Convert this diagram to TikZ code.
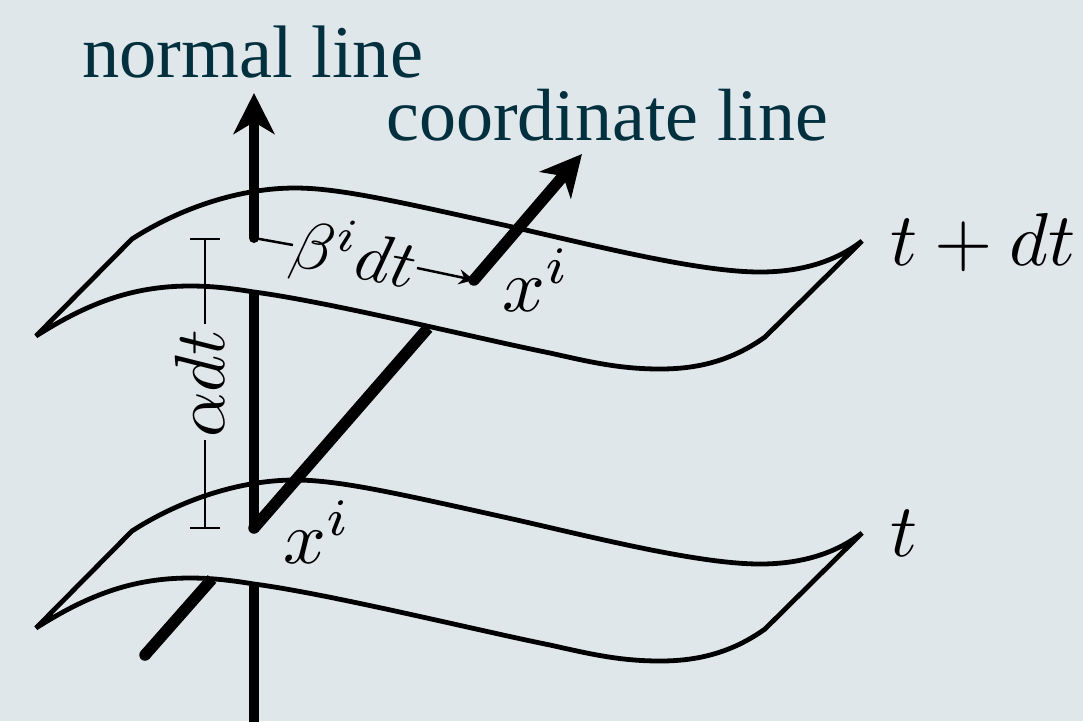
\documentclass[tikz,border=0pt]{standalone}
\usepackage{fontspec}
\usepackage{fix-cm}
\newfontfamily\labelfont{Liberation Serif}
\usetikzlibrary{arrows.meta}
\definecolor{bgc}{HTML}{E0E7EB}
\definecolor{labelc}{HTML}{02303F}
\tikzset{
  sheet/.style={line width=4.8pt,line join=bevel,black},
  thick line/.style={line width=10pt,line cap=round,black},
  thick coord/.style={line width=11.5pt,line cap=round,black},
  head/.style={-{Stealth[length=41pt,width=41pt,inset=12pt]}},
  thin line/.style={line width=2.5pt,black},
  math/.style={inner sep=0pt,scale=7.5,transform shape},
  name label/.style={inner sep=0pt,text=labelc,font=\labelfont},
  tstrip/.pic={
    \draw[sheet] (36,336) -- (132,239)
      .. controls (180,208) and (240,188) .. (295,188)
      .. controls (340,188) and (400,202) .. (517,228)
      .. controls (600,247) and (700,272) .. (760,272)
      .. controls (800,272) and (835,262) .. (862,241)
      -- (765,337)
      .. controls (730,362) and (695,369) .. (660,369)
      .. controls (620,369) and (590,362) .. (550,353)
      .. controls (480,339) and (330,302) .. (254,292)
      .. controls (235,289) and (215,286) .. (190,286)
      .. controls (130,286) and (85,305) .. (36,336) -- cycle;
  }
}
\begin{document}
\begin{tikzpicture}[x=1pt,y=-1pt]
\path[fill=bgc,use as bounding box] (0,0) rectangle (1083,721);
% anchors of the thick lines
\coordinate (nb) at (254,730);
\coordinate (nm) at (254,586);
\coordinate (n1) at (254,528);
\coordinate (n2) at (254,293);
\coordinate (n3) at (254,238);
\coordinate (nt) at (254,93);
\coordinate (c0) at (145,655);
\coordinate (c1) at (212,579);
\coordinate (c2) at (428,328);
\coordinate (c3) at (474,280);
\coordinate (ct) at (582,154);
\coordinate (st) at (0,292);
% strips
\pic at (0,0) {tstrip};
\pic at (st) {tstrip};
% normal line
\draw[thick line,line cap=butt] (nb) -- (nm);
\draw[thick line,line cap=butt] (n1) -- (n2);
\draw[thick line,head] (n3) -- (nt);
% coordinate line
\draw[thick coord,line cap=butt] (c0) -- (c1);
\draw[thick coord,line cap=butt] (n1) -- (c2);
\draw[thick coord,head] (c3) -- (ct);
\fill (c0) circle (5.75pt);
\fill (n1) circle (5.75pt);
% labels
\node[name label,anchor=base west,font=\labelfont\fontsize{74.4}{74}\selectfont] (normal) at (82,77) {normal line};
\node[name label,anchor=base west,font=\labelfont\fontsize{74}{74}\selectfont] (coord) at (386,140) {coordinate line};
\node[math,anchor=base west] (tdt) at (889,265) {$t+dt$};
\node[math,anchor=base west] (tt) at (889,556) {$t$};
\node[math,anchor=base west] (x1) at (501,311) {$x^i$};
\node[math,anchor=base west] (x2) at (282,563) {$x^i$};
\node[math,scale=6.8/7.5,rotate=-11,anchor=base] (beta) at (350,277.5) {$\beta^i dt$};
\node[math,scale=7.1/7.5,rotate=90,anchor=base] (adt) at (224,383.5) {$\alpha dt$};
% thin dimension lines
\coordinate (a1) at (205,239);
\coordinate (a2) at (205,528);
\coordinate (a3) at (205,324);
\coordinate (a4) at (205,440);
\coordinate (b1) at (293,245);
\coordinate (b2) at (417,268);
\draw[thin line] (190,239) -- (220,239);
\draw[thin line] (190,528) -- (220,528);
\draw[thin line] (a1) -- (a3);
\draw[thin line] (a2) -- (a4);
\draw[thin line] (n3) -- (b1);
\draw[thin line,-{Stealth[length=15pt,width=15pt,inset=5pt]}] (b2) -- (c3);
\end{tikzpicture}
\end{document}
